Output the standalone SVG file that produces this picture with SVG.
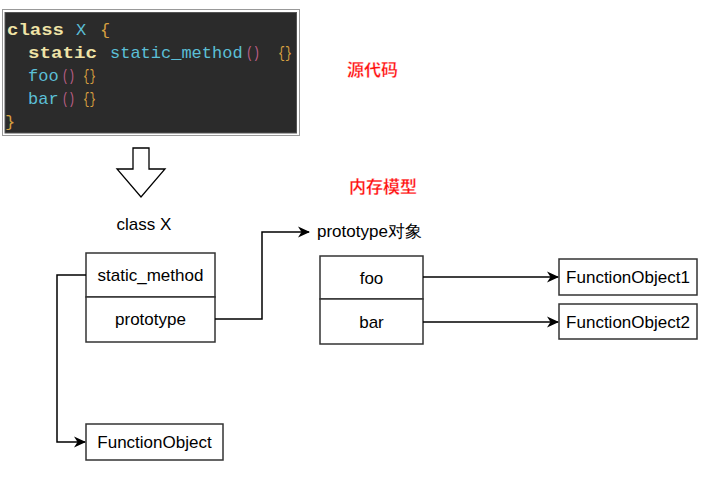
<svg xmlns="http://www.w3.org/2000/svg" width="713" height="485" viewBox="0 0 713 485">
<defs>
<marker id="ah" viewBox="0 0 12 12" refX="11" refY="6" markerWidth="12" markerHeight="12" markerUnits="userSpaceOnUse" orient="auto">
<path d="M0,0.5 L12,6 L0,11.5 L3.5,6 Z" fill="#000"/>
</marker>
<style>
.lbl{font-family:"Liberation Sans",Arial,sans-serif;font-size:17px;fill:#000}
.box{fill:#fff;stroke:#333;stroke-width:1.5}
.code{font-family:"Liberation Mono","Courier New",monospace;font-size:17px}
.kw{fill:#efe3a6;font-weight:bold}
.id{fill:#5bbfd6}
.pa{fill:#c0608a}
.br{fill:#d8a040}
.red{font-family:"Noto Sans CJK SC",sans-serif;font-size:17px;font-weight:bold;fill:#ff1010;stroke:#ffffff;stroke-width:0.3}
.edge{fill:none;stroke:#000;stroke-width:1.5}
</style>
</defs>
<rect width="713" height="485" fill="#fff"/>

<g id="code">
<rect x="2.5" y="9.5" width="297" height="126" fill="#fff" stroke="#999" stroke-width="1"/>
<rect x="5" y="12.5" width="291.5" height="120.5" fill="#2b2b2b" stroke="#555" stroke-width="1"/>
<text class="code" y="35"><tspan class="kw" x="7" textLength="57" lengthAdjust="spacingAndGlyphs">class</tspan><tspan class="id" x="76">X</tspan><tspan class="br" x="100">{</tspan></text>
<text class="code" y="58"><tspan class="kw" x="28" textLength="69" lengthAdjust="spacingAndGlyphs">static</tspan><tspan class="id" x="110">static_method</tspan><tspan class="pa" x="246" textLength="14" lengthAdjust="spacingAndGlyphs">()</tspan><tspan class="br" x="278" textLength="14" lengthAdjust="spacingAndGlyphs">{}</tspan></text>
<text class="code" y="81"><tspan class="id" x="28">foo</tspan><tspan class="pa" x="62" textLength="13" lengthAdjust="spacingAndGlyphs">()</tspan><tspan class="br" x="83" textLength="13" lengthAdjust="spacingAndGlyphs">{}</tspan></text>
<text class="code" y="104"><tspan class="id" x="28">bar</tspan><tspan class="pa" x="62" textLength="13" lengthAdjust="spacingAndGlyphs">()</tspan><tspan class="br" x="83" textLength="13" lengthAdjust="spacingAndGlyphs">{}</tspan></text>
<text class="code" y="127"><tspan class="br" x="5">}</tspan></text>
</g>

<g id="label-source"><text class="red" x="347" y="76">源代码</text></g>
<g id="label-memory"><text class="red" x="349" y="193">内存模型</text></g>

<g id="down-arrow">
<path d="M133,148 L149,148 L149,169 L165,169 L141,197 L117,169 L133,169 Z" fill="#fff" stroke="#000" stroke-width="1.3"/>
</g>

<g id="class-x-label"><text class="lbl" x="144" y="230" text-anchor="middle">class X</text></g>

<g id="class-x">
<rect class="box" x="86" y="253" width="129" height="44"/>
<text class="lbl" x="150.5" y="281" text-anchor="middle">static_method</text>
<rect class="box" x="86" y="297" width="129" height="45"/>
<text class="lbl" x="150.5" y="325" text-anchor="middle">prototype</text>
</g>

<g id="prototype-label"><text class="lbl" x="317" y="237">prototype对象</text></g>

<g id="prototype-object">
<rect class="box" x="320" y="256" width="103" height="43"/>
<text class="lbl" x="371.5" y="284" text-anchor="middle">foo</text>
<rect class="box" x="320" y="299" width="103" height="45"/>
<text class="lbl" x="371.5" y="328" text-anchor="middle">bar</text>
</g>

<g id="function-object-1">
<rect class="box" x="559" y="259" width="138" height="36"/>
<text class="lbl" x="628" y="283" text-anchor="middle">FunctionObject1</text>
</g>
<g id="function-object-2">
<rect class="box" x="559" y="304" width="138" height="35"/>
<text class="lbl" x="628" y="328" text-anchor="middle">FunctionObject2</text>
</g>
<g id="function-object">
<rect class="box" x="86" y="424" width="137" height="36"/>
<text class="lbl" x="154.5" y="448" text-anchor="middle">FunctionObject</text>
</g>

<g id="connectors">
<path class="edge" d="M215,319 L262,319 L262,232 L309,232" marker-end="url(#ah)"/>
<path class="edge" d="M423,277 L558,277" marker-end="url(#ah)"/>
<path class="edge" d="M423,322 L558,322" marker-end="url(#ah)"/>
<path class="edge" d="M86,275 L57,275 L57,442 L85,442" marker-end="url(#ah)"/>
</g>
</svg>
